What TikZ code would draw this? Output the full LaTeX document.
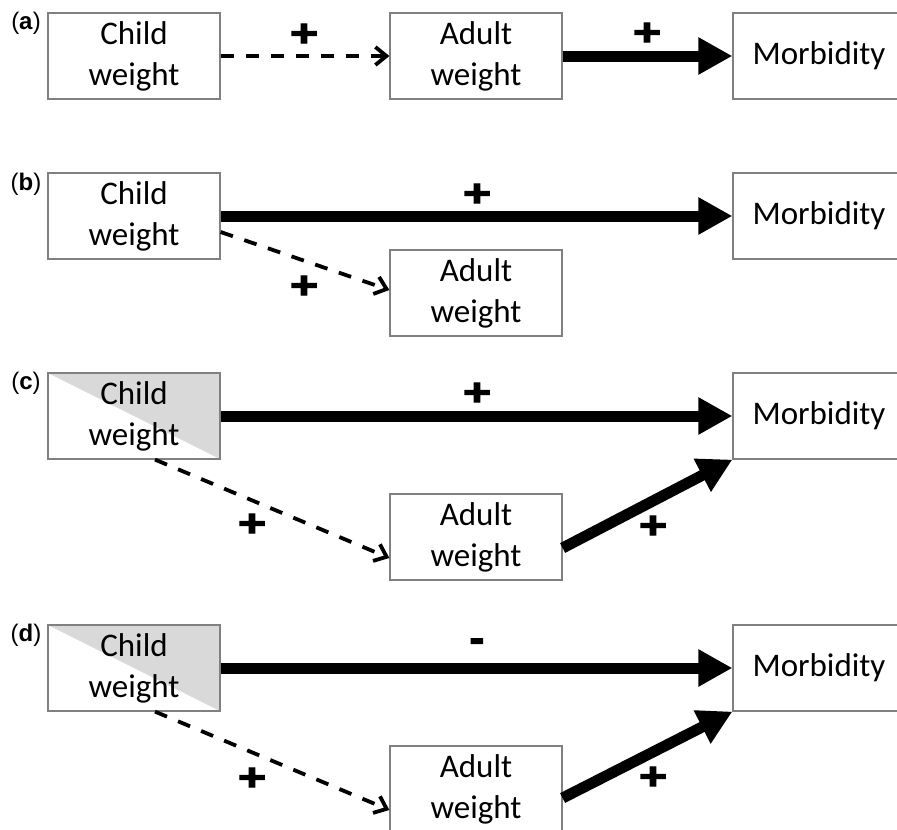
\documentclass[tikz,border=0pt]{standalone}
\usepackage{fontspec}
\setmainfont{Carlito}
\newfontfamily\labfont{Liberation Sans}
\newfontfamily\signfont[FakeBold=3]{Liberation Sans}
\usetikzlibrary{arrows.meta}
\begin{document}
\begin{tikzpicture}[x=1pt,y=-1pt,
  box/.style={draw=black!50, line width=1.2pt, minimum width=172pt, minimum height=86pt,
    inner sep=0pt, align=center, font=\fontsize{33}{41}\selectfont},
  halfgrey/.style={path picture={\fill[black!15] (path picture bounding box.north west)
    -- (path picture bounding box.north east) -- (path picture bounding box.south east) -- cycle;}},
  strong/.style={line width=11pt, -{Triangle[length=34pt,width=35pt]}},
  weak/.style={line width=3.8pt, dash pattern=on 13pt off 12pt, -{Straight Barb[length=11pt,width=18pt]}},
  sign/.style={font=\signfont\bfseries\fontsize{40}{40}\selectfont, inner sep=0pt},
  panel/.style={font=\labfont\fontsize{24}{24}\selectfont, inner sep=0pt}
]
\useasboundingbox (0,0) rectangle (897,830);
\clip (0,0) rectangle (897,830);

% panel a
\node[panel] (la) at (26,23) {(\textbf{a})};
\node[box] (ca) at (134,56) {Child\\weight};
\node[box] (aa) at (476,56) {Adult\\weight};
\node[box] (ma) at (819,56) {Morbidity};
\draw[weak] (ca.east) -- (aa.west);
\draw[strong] (aa.east) -- (ma.west);
\node[sign] (pa1) at (304,35) {\scalebox{1.2}[0.95]{+}};
\node[sign] (pa2) at (647,34) {\scalebox{1.2}[0.95]{+}};

% panel b
\node[panel] (lb) at (26,184) {(\textbf{b})};
\node[box] (cb) at (134,216) {Child\\weight};
\node[box] (mb) at (819,216) {Morbidity};
\node[box] (ab) at (476,293) {Adult\\weight};
\draw[strong] (cb.east) -- (mb.west);
\draw[weak] ([yshift=-16pt]cb.east) -- ([yshift=3pt]ab.west);
\node[sign] (pb1) at (477,195) {\scalebox{1.2}[0.95]{+}};
\node[sign] (pb2) at (304,287) {\scalebox{1.2}[0.95]{+}};

% panel c
\node[panel] (lc) at (26,383) {(\textbf{c})};
\node[box, halfgrey] (cc) at (134,416) {Child\\weight};
\node[box] (mc) at (819,416) {Morbidity};
\node[box] (ac) at (476,537) {Adult\\weight};
\draw[strong] (cc.east) -- (mc.west);
\draw[weak] ([xshift=21pt]cc.south) -- ([yshift=-21pt]ac.west);
\draw[strong] ([yshift=-11pt]ac.east) -- (mc.south west);
\node[sign] (pc1) at (477,394) {\scalebox{1.2}[0.95]{+}};
\node[sign] (pc2) at (252,525) {\scalebox{1.2}[0.95]{+}};
\node[sign] (pc3) at (653,527) {\scalebox{1.2}[0.95]{+}};

% panel d
\node[panel] (ld) at (26,635) {(\textbf{d})};
\node[box, halfgrey] (cd) at (134,668) {Child\\weight};
\node[box] (md) at (819,668) {Morbidity};
\node[box] (ad) at (476,789) {Adult\\weight};
\draw[strong] (cd.east) -- (md.west);
\draw[weak] ([xshift=21pt]cd.south) -- ([yshift=-21pt]ad.west);
\draw[strong] ([yshift=-9pt]ad.east) -- (md.south west);
\node[sign] (pd1) at (477,645) {\scalebox{1.1}[1]{-}};
\node[sign] (pd2) at (252,779) {\scalebox{1.2}[0.95]{+}};
\node[sign] (pd3) at (653,778) {\scalebox{1.2}[0.95]{+}};
\end{tikzpicture}
\end{document}
